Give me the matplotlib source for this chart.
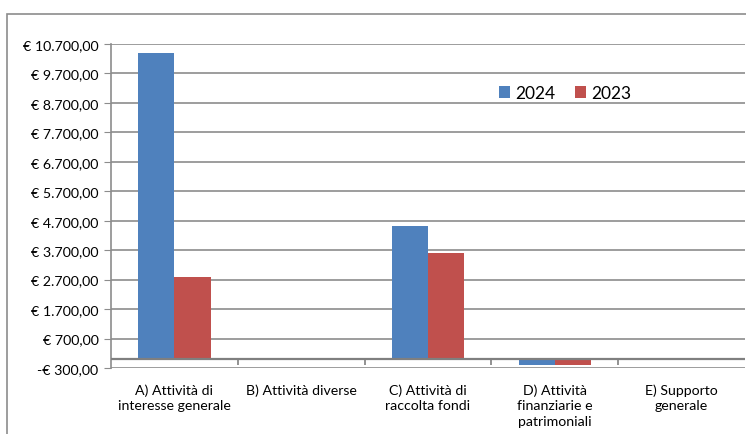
import numpy as np
import matplotlib
matplotlib.use("Agg")
import matplotlib.pyplot as plt
from matplotlib.patches import Rectangle
from matplotlib.ticker import FuncFormatter

plt.rcParams['font.family'] = ['Lato', 'DejaVu Sans']

categories = ["A) Attività di\ninteresse generale", "B) Attività diverse",
              "C) Attività di\nraccolta fondi", "D) Attività\nfinanziarie e\npatrimoniali",
              "E) Supporto\ngenerale"]
val_2024 = [10390, 0, 4530, -190, 0]
val_2023 = [2780, 0, 3620, -190, 0]
yticks = [-300, 700, 1700, 2700, 3700, 4700, 5700, 6700, 7700, 8700, 9700, 10700]

blue = "#4F81BD"
red = "#C0504D"
grid_c = "#8C8C8C"


def euro(v, pos=None):
    s = "{:,.2f}".format(abs(v)).replace(",", "X").replace(".", ",").replace("X", ".")
    return ("-€ " if v < 0 else "€ ") + s


W, H = 746, 435
fig = plt.figure(figsize=(W / 100, H / 100), dpi=100)
ax = fig.add_axes([111 / W, 66 / H, 634 / W, 324 / H])

x = np.arange(len(categories))
bw = 0.286
ax.bar(x - bw / 2, val_2024, bw, color=blue, label="2024", zorder=3)
ax.bar(x + bw / 2, val_2023, bw, color=red, label="2023", zorder=3)

ax.set_xlim(-0.5, len(categories) - 0.5)
ax.set_ylim(-300, 10700)
ax.set_yticks(yticks)
ax.yaxis.set_major_formatter(FuncFormatter(euro))
ax.yaxis.grid(True, color=grid_c, linewidth=1.2, zorder=0)
ax.axhline(0, color="#7F7F7F", linewidth=1.6, zorder=4)
ax.vlines(np.arange(len(categories) - 1) + 0.5, -200, 0, color="#7F7F7F", linewidth=1.2, zorder=4)

ax.set_xticks(x)
ax.set_xticklabels(categories, fontsize=10.2, linespacing=1.35)
ax.tick_params(axis="x", length=0, pad=11)
ax.tick_params(axis="y", length=5, color=grid_c, labelsize=10.2, pad=4)

for s in ["top", "right", "bottom"]:
    ax.spines[s].set_visible(False)
ax.spines["left"].set_color(grid_c)
ax.spines["left"].set_linewidth(1.2)

fig.legend(loc="center", bbox_to_anchor=(565 / W, 1 - 94 / H), ncol=2, frameon=False,
           fontsize=12.5, handlelength=0.65, handleheight=0.65, handletextpad=0.3,
           columnspacing=1.1)

fig.patches.append(Rectangle((7 / W, -0.1), 2, (H - 15) / H + 0.1, transform=fig.transFigure,
                             fill=False, edgecolor=grid_c, linewidth=1.2))

fig.savefig("out.png", dpi=100)
